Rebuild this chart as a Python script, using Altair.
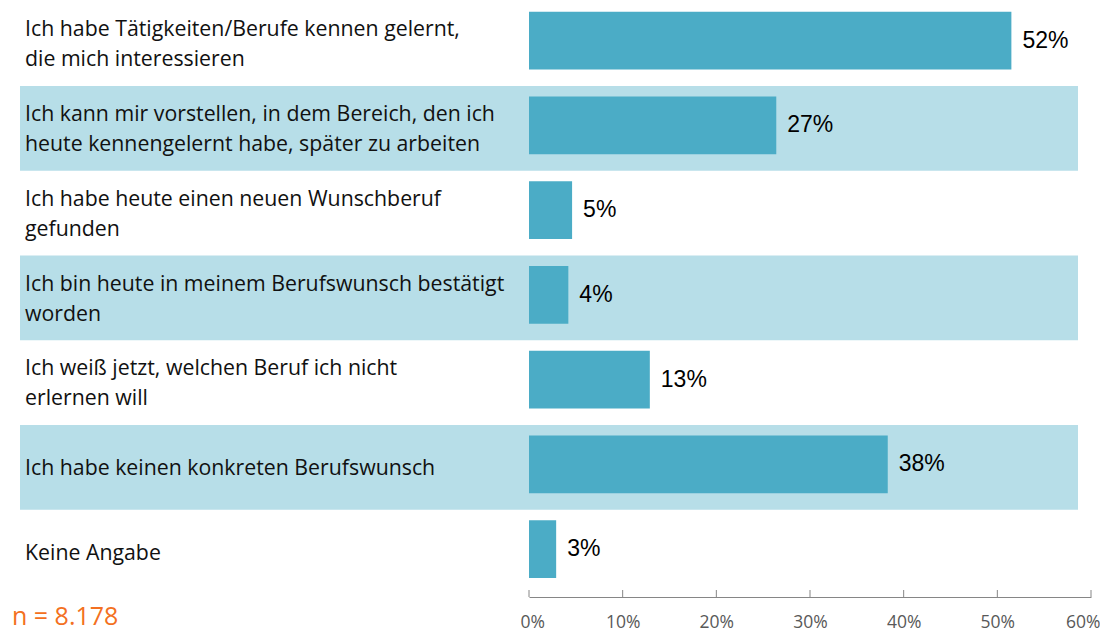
import altair as alt
import pandas as pd

categories = [
    "Ich habe Tätigkeiten/Berufe kennen gelernt,\ndie mich interessieren",
    "Ich kann mir vorstellen, in dem Bereich, den ich\nheute kennengelernt habe, später zu arbeiten",
    "Ich habe heute einen neuen Wunschberuf\ngefunden",
    "Ich bin heute in meinem Berufswunsch bestätigt\nworden",
    "Ich weiß jetzt, welchen Beruf ich nicht\nerlernen will",
    "Ich habe keinen konkreten Berufswunsch",
    "Keine Angabe",
]
values = [51.5, 26.4, 4.6, 4.2, 12.9, 38.3, 2.9]
value_labels = ["52%", "27%", "5%", "4%", "13%", "38%", "3%"]
tick_values = [0, 10, 20, 30, 40, 50, 60]
note = ["n = 8.178"]

df = pd.DataFrame({
    "cat": categories,
    "value": values,
    "label": value_labels,
    "row": list(range(len(categories))),
})
df["band"] = df["row"] % 2 == 1
df_ticks = pd.DataFrame({"t": tick_values})
df_note = pd.DataFrame({"note": note})

W, H = 562, 589
ROW_PX = 84.75
LINE_H = 30
xscale = alt.Scale(domain=[0, 60], nice=False, zero=True)
yscale = alt.Scale(domain=[0.0796, 7.030], reverse=True, nice=False, zero=False)

base = alt.Chart(df)

bands = base.transform_filter("datum.band").transform_calculate(
    y0="datum.row", y1="datum.row + 1"
).mark_rect(color="#B7DEE8").encode(
    x=alt.value(-509), x2=alt.value(549),
    y=alt.Y("y0:Q", scale=yscale, axis=None), y2="y1:Q",
)

bars = base.transform_calculate(
    b0="datum.row + 0.125", b1="datum.row + 0.805"
).mark_rect(color="#4BACC6").encode(
    x=alt.X("value:Q", scale=xscale,
            axis=alt.Axis(values=tick_values, format="d", labelExpr="datum.value + '%'",
                          title=None, grid=False, ticks=False, domainColor="#868686",
                          labelColor="#595959", labelFont="Open Sans", labelFontSize=17.5,
                          labelPadding=16, labelFlush=True, labelFlushOffset=9)),
    x2=alt.value(0),
    y=alt.Y("b0:Q", scale=yscale, axis=None), y2="b1:Q",
)

vlabels = base.transform_calculate(c="datum.row + 0.465").mark_text(
    align="left", baseline="middle", dx=11, font="Liberation Sans", fontSize=23, color="#000000"
).encode(
    x=alt.X("value:Q", scale=xscale),
    y=alt.Y("c:Q", scale=yscale, axis=None),
    text="label:N",
)

clabels = base.transform_calculate(
    nl="length(split(datum.cat, '\\n'))",
    c=f"datum.row + 0.52 - (datum.nl - 1) * {LINE_H / 2} / {ROW_PX}",
).mark_text(
    align="left", baseline="middle", lineBreak="\n", lineHeight=LINE_H,
    font="Open Sans", fontSize=21.3, color="#111111"
).encode(
    x=alt.value(-504),
    y=alt.Y("c:Q", scale=yscale, axis=None),
    text="cat:N",
)

ticks = alt.Chart(df_ticks).mark_rule(color="#868686", strokeWidth=1).encode(
    x=alt.X("t:Q", scale=xscale),
    y=alt.value(H - 7), y2=alt.value(H),
)

nlabel = alt.Chart(df_note).mark_text(
    align="left", baseline="middle", font="Open Sans", fontSize=25, color="#F37021"
).encode(x=alt.value(-517), y=alt.value(609), text="note:N")

chart = alt.layer(bands, bars, vlabels, clabels, ticks, nlabel).properties(
    width=W, height=H,
    autosize=alt.AutoSizeParams(type="none"),
    padding={"left": 521, "top": 0, "right": 9, "bottom": 36},
).configure_view(stroke=None)

chart.save("out.html", embed_options={"renderer": "svg", "actions": False})
